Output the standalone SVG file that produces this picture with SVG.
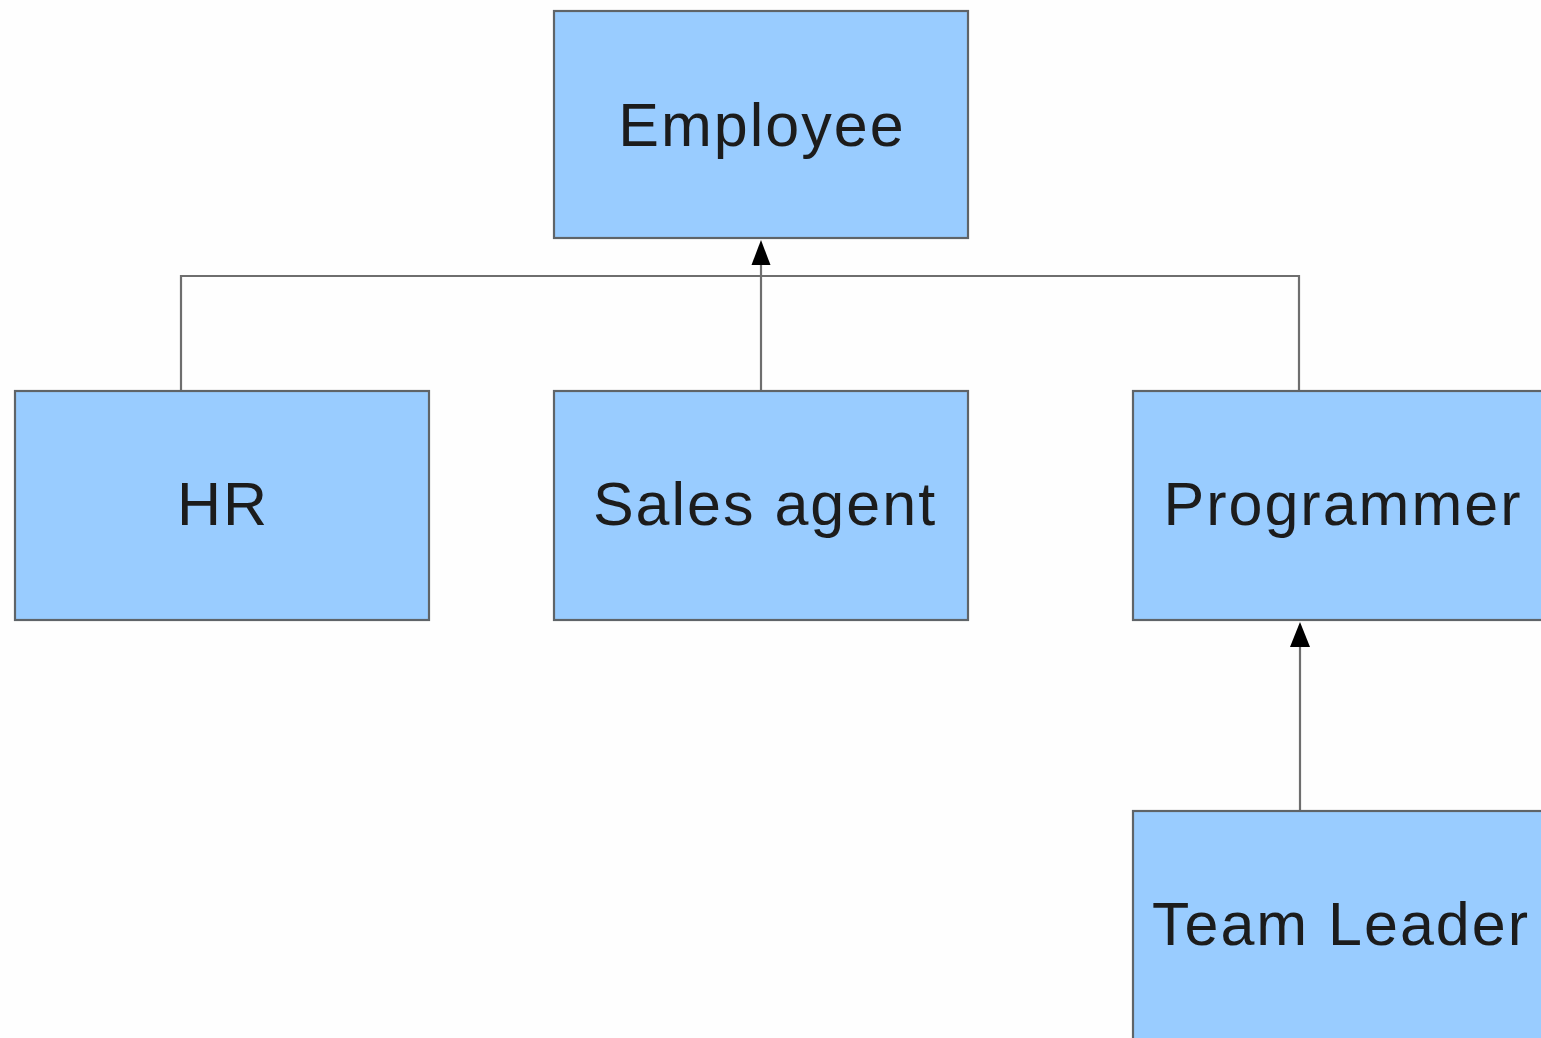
<svg xmlns="http://www.w3.org/2000/svg" width="1541" height="1038" viewBox="0 0 1541 1038">
<style>
.box{fill:#99ccff;stroke:#5f6468;stroke-width:2.2}
.lbl{font-family:"Liberation Sans",Arial,sans-serif;font-size:61px;letter-spacing:2px;fill:#1c1c1c;text-anchor:middle}
.conn{fill:none;stroke:#6e6e6e;stroke-width:2.2}
</style>
<rect width="1541" height="1038" fill="#fefefe"/>
<g id="connectors">
<polyline class="conn" points="181,391 181,276 1299,276 1299,391"/>
<line class="conn" x1="761" y1="391" x2="761" y2="262"/>
<path d="M761 240 L770.5 265 L751.5 265 Z" fill="#000"/>
<line class="conn" x1="1300" y1="811" x2="1300" y2="644"/>
<path d="M1300 622 L1310 647 L1290 647 Z" fill="#000"/>
</g>
<g id="employee">
<rect class="box" x="554" y="11" width="414" height="227"/>
<text class="lbl" x="762" y="146">Employee</text>
</g>
<g id="hr">
<rect class="box" x="15" y="391" width="414" height="229"/>
<text class="lbl" x="223" y="525">HR</text>
</g>
<g id="sales-agent">
<rect class="box" x="554" y="391" width="414" height="229"/>
<text class="lbl" x="765" y="525">Sales agent</text>
</g>
<g id="programmer">
<rect class="box" x="1133" y="391" width="414" height="229"/>
<text class="lbl" x="1343" y="525">Programmer</text>
</g>
<g id="team-leader">
<rect class="box" x="1133" y="811" width="414" height="240"/>
<text class="lbl" x="1341" y="945" letter-spacing="1.1">Team Leader</text>
</g>
</svg>
